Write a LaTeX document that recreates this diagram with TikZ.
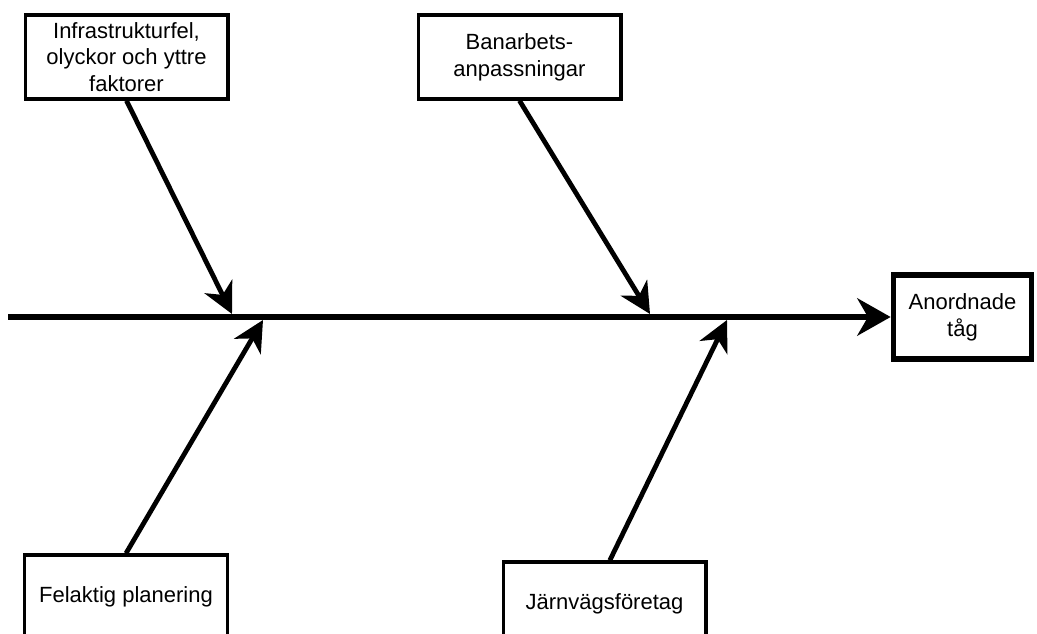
\documentclass[tikz,border=0pt]{standalone}
\usepackage{fontspec}
\setmainfont{Liberation Sans}
\usetikzlibrary{arrows.meta}

\tikzset{
  orsak/.style={draw, line width=2.5pt, fill=white, align=center,
    minimum width=152pt, minimum height=63pt, inner sep=2pt,
    font=\fontsize{16.5}{20}\selectfont},
  effekt/.style={orsak, line width=3.8pt, minimum width=104pt},
  gren/.style={line width=3.6pt, -{Stealth[length=23pt,width=23pt,inset=7pt]}},
  rygg/.style={line width=4.2pt, -{Stealth[length=25pt,width=28pt,inset=8pt]}}
}

\begin{document}
\begin{tikzpicture}[x=0.75pt, y=-0.75pt]
      \clip (0,0) rectangle (1037,634);
      \useasboundingbox (0,0) rectangle (1037,634);
      % orsaker och effekt
      \node[orsak] (infra) at (126.5,57) {Infrastrukturfel,\\olyckor och yttre\\faktorer};
      \node[orsak] (banarb) at (519.5,57) {Banarbets-\\anpassningar};
      \node[orsak] (plan) at (126,597) {Felaktig planering};
      \node[orsak] (jvf) at (604.5,604) {Järnvägsföretag};
      \node[effekt] (tag) at (962.5,317) {Anordnade\\tåg};
      % fiskbenets rygg
      \coordinate (start) at (8,317);
      \draw[rygg] (start) -- (tag.west);
      % grenarna mot ryggen
      \coordinate (p1) at (232,314);
      \coordinate (p2) at (650,314);
      \coordinate (p3) at (263,320);
      \coordinate (p4) at (727,320);
      \foreach \namn/\pkt in {infra/p1, banarb/p2}
      \draw[gren] (\namn.south) -- (\pkt);
      \draw[gren] (plan.north) -- (p3);
      \draw[gren] ([xshift=4pt]jvf.north) -- (p4);
\end{tikzpicture}
\end{document}
